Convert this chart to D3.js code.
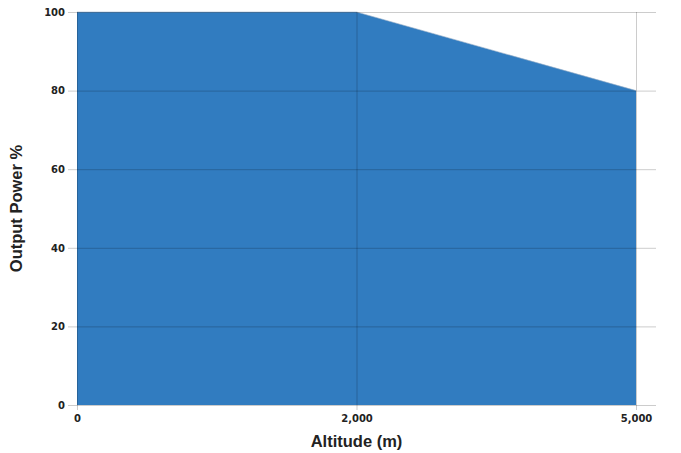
<!DOCTYPE html>
<html><head><meta charset="utf-8">
<script src="https://cdn.jsdelivr.net/npm/d3@7"></script>
<style>body{margin:0;background:#fff}svg{display:block}</style>
</head><body>
<script>
const altitudes = [0, 2000, 5000];
const outputPower = [100, 100, 80];
const yTicks = [0, 20, 40, 60, 80, 100];

const W = 681, H = 453;
const svg = d3.select("body").append("svg").attr("width", W).attr("height", H);
const pLeft = 77, pRight = 636, gridRight = 656, pTop = 12, pBottom = 405;

const x = d3.scalePoint().domain(altitudes).range([pLeft, pRight]);
const y = d3.scaleLinear().domain([0, 100]).range([pBottom, pTop]);
const data = altitudes.map((a, i) => ({a, v: outputPower[i]}));

svg.append("path").datum(data)
  .attr("fill", "#317cc0")
  .attr("d", d3.area().x(d => x(d.a)).y0(y(0)).y1(d => y(d.v)));
svg.append("path").datum(data)
  .attr("fill", "none").attr("stroke", "#9ab0c8").attr("stroke-width", 0.6)
  .attr("d", d3.line().x(d => x(d.a)).y(d => y(d.v)));

const font = "'DejaVu Sans', sans-serif";
// y axis
const ya = svg.append("g").attr("transform", `translate(${pLeft},0)`)
  .call(d3.axisLeft(y).tickValues(yTicks).tickSize(9).tickSizeOuter(0).tickPadding(3));
ya.select(".domain").remove();
ya.selectAll(".tick line").attr("stroke", "#000").attr("stroke-opacity", 0.2)
  .attr("x2", gridRight - pLeft).attr("x1", -9);
ya.selectAll(".tick text").attr("font-family", font).attr("font-weight", "bold")
  .attr("font-size", 10).attr("fill", "#222");

// x axis
const xa = svg.append("g").attr("transform", `translate(0,${pBottom})`)
  .call(d3.axisBottom(x).tickFormat(d3.format(",")).tickSize(5).tickSizeOuter(0).tickPadding(5));
xa.select(".domain").remove();
xa.selectAll(".tick line").attr("stroke", "#000").attr("stroke-opacity", 0.2)
  .attr("y1", pTop - pBottom).attr("y2", 5);
xa.selectAll(".tick text").attr("font-family", font).attr("font-weight", "bold")
  .attr("font-size", 10).attr("fill", "#222");

svg.append("text").attr("x", (pLeft + pRight) / 2).attr("y", 447)
  .attr("text-anchor", "middle").attr("font-family", "'Liberation Sans', Arial, sans-serif")
  .attr("font-weight", "bold").attr("font-size", 16.5).attr("fill", "#222").text("Altitude (m)");
svg.append("text").attr("transform", `translate(22,${(pTop + pBottom) / 2}) rotate(-90)`)
  .attr("text-anchor", "middle").attr("font-family", "'Liberation Sans', Arial, sans-serif")
  .attr("font-weight", "bold").attr("font-size", 16.5).attr("fill", "#222").text("Output Power %");
</script>
</body></html>
